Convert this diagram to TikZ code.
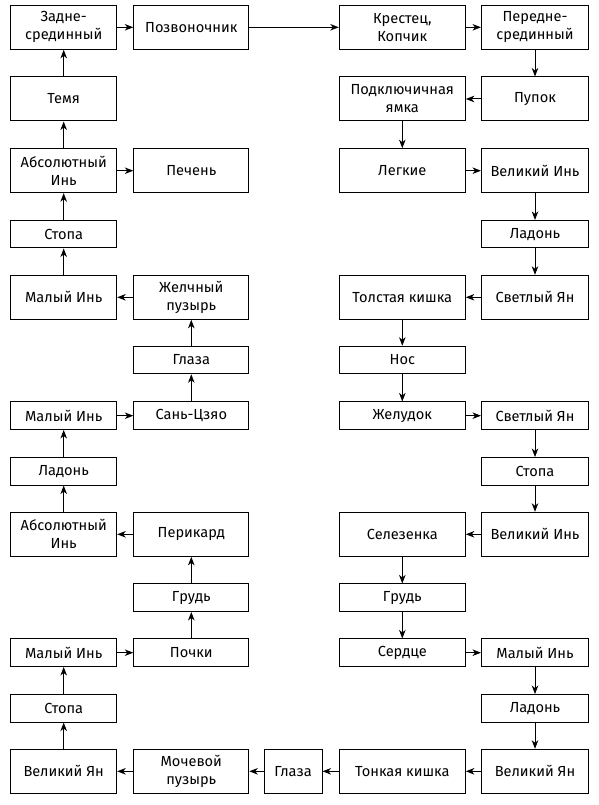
\documentclass[tikz,border=0pt]{standalone}
\usepackage{fontspec}
\setmainfont{Fira Sans}
\usetikzlibrary{arrows.meta}

\begin{document}
\begin{tikzpicture}[x=1pt,y=-1pt,
    box/.style={draw,line width=1pt,inner sep=0pt,align=center,font=\fontsize{14.6}{18}\selectfont},
    tallbox/.style={box,minimum height=44pt},
    shortbox/.style={box,minimum height=27.5pt},
    colA/.style={minimum width=106pt},
    colB/.style={minimum width=115pt},
    colC/.style={minimum width=126pt},
    colD/.style={minimum width=107pt},
    arr/.style={-{Stealth[length=8.5pt,width=6.5pt,inset=2.5pt]},line width=1pt}]
    % Parameters
    \def\ca{63.7}
    \def\cb{191.3}
    \def\cc{402.3}
    \def\cd{535}
    \useasboundingbox (0,0) rectangle (598,805);
    % Row 1
    \node[tallbox,colA] (zadne) at (\ca,27.3) {Задне-\\срединный};
    \node[tallbox,colB] (pozv) at (\cb,27.3) {Позвоночник};
    \node[tallbox,colC] (krest) at (\cc,27.3) {Крестец,\\Копчик};
    \node[tallbox,colD] (perede) at (\cd,27.3) {Передне-\\срединный};
    % Row 2
    \node[tallbox,colA] (temya) at (\ca,99) {Темя};
    \node[tallbox,colC] (podkl) at (\cc,99) {Подключичная\\ямка};
    \node[tallbox,colD] (pupok) at (\cd,99) {Пупок};
    % Row 3
    \node[tallbox,colA] (absA) at (\ca,170.7) {Абсолютный\\Инь};
    \node[tallbox,colB] (pechen) at (\cb,170.7) {Печень};
    \node[tallbox,colC] (legkie) at (\cc,170.7) {Легкие};
    \node[tallbox,colD] (velinA) at (\cd,170.7) {Великий Инь};
    % Row 4
    \node[shortbox,colA] (stopaA) at (\ca,234.2) {Стопа};
    \node[shortbox,colD] (ladonA) at (\cd,234.2) {Ладонь};
    % Row 5
    \node[tallbox,colA] (malyA) at (\ca,297.3) {Малый Инь};
    \node[tallbox,colB] (zhelch) at (\cb,297.3) {Желчный\\пузырь};
    \node[tallbox,colC] (tolst) at (\cc,297.3) {Толстая кишка};
    \node[tallbox,colD] (svetA) at (\cd,297.3) {Светлый Ян};
    % Row 6
    \node[shortbox,colB] (glazaA) at (\cb,360) {Глаза};
    \node[shortbox,colC] (nos) at (\cc,360) {Нос};
    % Row 7
    \node[shortbox,colA] (malyB) at (\ca,415.7) {Малый Инь};
    \node[shortbox,colB] (san) at (\cb,415.7) {Сань-Цзяо};
    \node[shortbox,colC] (zhel) at (\cc,415.7) {Желудок};
    \node[shortbox,colD] (svetB) at (\cd,415.7) {Светлый Ян};
    % Row 8
    \node[shortbox,colA] (ladonB) at (\ca,471.3) {Ладонь};
    \node[shortbox,colD] (stopaB) at (\cd,471.3) {Стопа};
    % Row 9
    \node[tallbox,colA] (absB) at (\ca,534.3) {Абсолютный\\Инь};
    \node[tallbox,colB] (perik) at (\cb,534.3) {Перикард};
    \node[tallbox,colC] (selez) at (\cc,534.3) {Селезенка};
    \node[tallbox,colD] (velinB) at (\cd,534.3) {Великий Инь};
    % Row 10
    \node[shortbox,colB] (grudA) at (\cb,597.7) {Грудь};
    \node[shortbox,colC] (grudB) at (\cc,597.7) {Грудь};
    % Row 11
    \node[shortbox,colA] (malyC) at (\ca,652.7) {Малый Инь};
    \node[shortbox,colB] (pochki) at (\cb,652.7) {Почки};
    \node[shortbox,colC] (serdce) at (\cc,652.7) {Сердце};
    \node[shortbox,colD] (malyD) at (\cd,652.7) {Малый Инь};
    % Row 12
    \node[shortbox,colA] (stopaC) at (\ca,708.3) {Стопа};
    \node[shortbox,colD] (ladonC) at (\cd,708.3) {Ладонь};
    % Row 13
    \node[tallbox,colA] (velyanA) at (\ca,771.3) {Великий Ян};
    \node[tallbox,colB] (mochev) at (\cb,771.3) {Мочевой\\пузырь};
    \node[tallbox,minimum width=58pt] (glazaB) at (293,771.3) {Глаза};
    \node[tallbox,colC] (tonk) at (\cc,771.3) {Тонкая кишка};
    \node[tallbox,colD] (velyanB) at (\cd,771.3) {Великий Ян};
    % Left side, going up
    \draw[arr] (velyanA) -- (stopaC);
    \draw[arr] (stopaC) -- (malyC);
    \draw[arr] (malyC) -- (pochki);
    \draw[arr] (pochki) -- (grudA);
    \draw[arr] (grudA) -- (perik);
    \draw[arr] (perik) -- (absB);
    \draw[arr] (absB) -- (ladonB);
    \draw[arr] (ladonB) -- (malyB);
    \draw[arr] (malyB) -- (san);
    \draw[arr] (san) -- (glazaA);
    \draw[arr] (glazaA) -- (zhelch);
    \draw[arr] (zhelch) -- (malyA);
    \draw[arr] (malyA) -- (stopaA);
    \draw[arr] (stopaA) -- (absA);
    \draw[arr] (absA) -- (pechen);
    \draw[arr] (absA) -- (temya);
    \draw[arr] (temya) -- (zadne);
    \draw[arr] (zadne) -- (pozv);
    % Top
    \draw[arr] (pozv) -- (krest);
    \draw[arr] (krest) -- (perede);
    % Right side, going down
    \draw[arr] (perede) -- (pupok);
    \draw[arr] (pupok) -- (podkl);
    \draw[arr] (podkl) -- (legkie);
    \draw[arr] (legkie) -- (velinA);
    \draw[arr] (velinA) -- (ladonA);
    \draw[arr] (ladonA) -- (svetA);
    \draw[arr] (svetA) -- (tolst);
    \draw[arr] (tolst) -- (nos);
    \draw[arr] (nos) -- (zhel);
    \draw[arr] (zhel) -- (svetB);
    \draw[arr] (svetB) -- (stopaB);
    \draw[arr] (stopaB) -- (velinB);
    \draw[arr] (velinB) -- (selez);
    \draw[arr] (selez) -- (grudB);
    \draw[arr] (grudB) -- (serdce);
    \draw[arr] (serdce) -- (malyD);
    \draw[arr] (malyD) -- (ladonC);
    \draw[arr] (ladonC) -- (velyanB);
    % Bottom
    \draw[arr] (velyanB) -- (tonk);
    \draw[arr] (tonk) -- (glazaB);
    \draw[arr] (glazaB) -- (mochev);
    \draw[arr] (mochev) -- (velyanA);
\end{tikzpicture}
\end{document}
